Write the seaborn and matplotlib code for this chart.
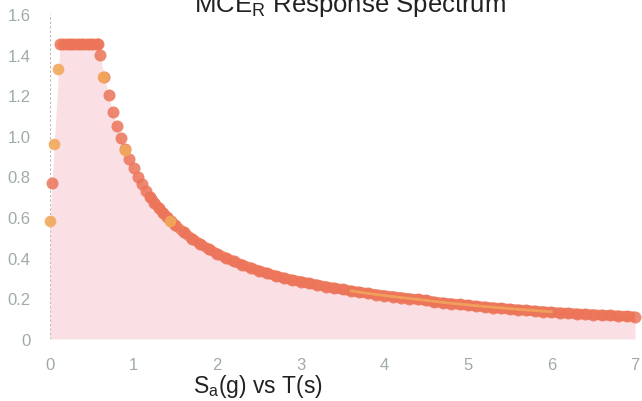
import matplotlib
matplotlib.use("Agg")
import matplotlib.pyplot as plt
import seaborn as sns
import pandas as pd

# ---- data ----
period_main = [0.025,
               0.12, 0.16, 0.20, 0.24, 0.28, 0.32, 0.36, 0.40, 0.44, 0.48, 0.52, 0.56, 0.58,
               0.60, 0.65, 0.70, 0.75, 0.80, 0.85, 0.90, 0.95, 1.00, 1.05, 1.10, 1.15, 1.20,
               1.25, 1.30, 1.35, 1.40, 1.45, 1.50,
               1.6, 1.7, 1.8, 1.9, 2.0, 2.1, 2.2, 2.3, 2.4, 2.5, 2.6, 2.7, 2.8, 2.9, 3.0,
               3.1, 3.2, 3.3, 3.4, 3.5, 3.6, 3.7, 3.8, 3.9, 4.0, 4.1, 4.2, 4.3, 4.4, 4.5,
               4.6, 4.7, 4.8, 4.9, 5.0, 5.1, 5.2, 5.3, 5.4, 5.5, 5.6, 5.7, 5.8, 5.9, 6.0,
               6.1, 6.2, 6.3, 6.4, 6.5, 6.6, 6.7, 6.8, 6.9, 7.0]
sa_main = [0.77,
           1.45, 1.45, 1.45, 1.45, 1.45, 1.45, 1.45, 1.45, 1.45, 1.45, 1.45, 1.45, 1.45,
           1.400, 1.292, 1.200, 1.120, 1.050, 0.988, 0.933, 0.884, 0.840, 0.800, 0.764, 0.730, 0.700,
           0.672, 0.646, 0.622, 0.600, 0.579, 0.560,
           0.525, 0.494, 0.467, 0.442, 0.420, 0.400, 0.382, 0.365, 0.350, 0.336, 0.323, 0.311, 0.300, 0.290, 0.283,
           0.274, 0.266, 0.258, 0.251, 0.244, 0.237, 0.231, 0.225, 0.219, 0.214, 0.209, 0.204, 0.199, 0.195, 0.190,
           0.182, 0.178, 0.174, 0.170, 0.166, 0.162, 0.158, 0.154, 0.151, 0.147, 0.144, 0.141, 0.138, 0.135, 0.132,
           0.129, 0.127, 0.124, 0.122, 0.120, 0.118, 0.116, 0.114, 0.112, 0.110]

period_alt = [0.0, 0.05, 0.10, 0.63, 0.90, 1.43,
              3.6, 3.8, 4.0, 4.2, 4.4, 4.6, 4.8, 5.0, 5.2, 5.4, 5.6, 5.8, 6.0]
sa_alt = [0.58, 0.96, 1.33, 1.29, 0.93, 0.58,
          0.237, 0.225, 0.214, 0.204, 0.195, 0.185, 0.176, 0.168, 0.160, 0.153, 0.146, 0.140, 0.134]

x_ticks = [0, 1, 2, 3, 4, 5, 6, 7]
y_ticks = [0, 0.2, 0.4, 0.6, 0.8, 1.0, 1.2, 1.4, 1.6]
y_tick_labels = ["0", "0.2", "0.4", "0.6", "0.8", "1.0", "1.2", "1.4", "1.6"]

df_main = pd.DataFrame({"T": period_main, "Sa": sa_main})
df_alt = pd.DataFrame({"T": period_alt, "Sa": sa_alt})

sns.set_style("white")
plt.rcParams["font.family"] = ["Liberation Sans", "DejaVu Sans"]
plt.rcParams["mathtext.fontset"] = "custom"
plt.rcParams["mathtext.rm"] = "Liberation Sans"

fig = plt.figure(figsize=(6.42, 4.02), dpi=100)
ax = fig.add_axes([50 / 642, 62 / 402, 585 / 642, 325 / 402])

# filled area under the spectrum
df_fill = pd.concat([df_alt.iloc[:1], df_main]).sort_values("T")
ax.fill_between(df_fill["T"], 0, df_fill["Sa"], color="#f6c3cb", alpha=0.5,
                linewidth=0, zorder=1)

# dense band along the long-period tail
tail = df_main[df_main["T"] >= 1.2]
sns.lineplot(data=tail, x="T", y="Sa", ax=ax, color="#ec7458", linewidth=7.5,
             alpha=0.85, zorder=2, solid_capstyle="round")

sns.scatterplot(data=df_main, x="T", y="Sa", ax=ax, color="#ec7458",
                s=75, linewidth=0, alpha=0.85, zorder=4, clip_on=False)
# yellow-ish streak inside the band
sns.lineplot(data=df_alt.iloc[6:], x="T", y="Sa", ax=ax, color="#f5c25e",
             linewidth=2.0, alpha=0.55, zorder=5)
sns.scatterplot(data=df_alt.iloc[:6], x="T", y="Sa", ax=ax, color="#f2a85a",
                s=70, linewidth=0, alpha=0.9, zorder=6, clip_on=False)

ax.set_xlim(0, 7)
ax.set_ylim(0, 1.6)
ax.set_xticks(x_ticks)
ax.set_xticklabels([str(t) for t in x_ticks])
ax.set_yticks(y_ticks)
ax.set_yticklabels(y_tick_labels)
ax.tick_params(axis="both", length=0, labelsize=12, labelcolor="#a0aaaa")
ax.tick_params(axis="x", pad=13)
ax.tick_params(axis="y", pad=14)
ax.set_xlabel("")
ax.set_ylabel("")
for sp in ax.spines.values():
    sp.set_visible(False)
ax.axvline(0, color="#b8b8b8", linestyle=(0, (2, 2)), linewidth=0.8, zorder=0)
ax.axhline(0, color="#b8b8b8", linestyle=(0, (1, 2)), linewidth=0.8, zorder=0)

fig.text(350 / 642, 1 - 12 / 402, r"MCE$_\mathregular{R}$ Response Spectrum",
         ha="center", va="baseline", fontsize=18.5, color="#222222")
fig.text(258 / 642, 1 - 393 / 402, r"S$_\mathregular{a}$(g) vs T(s)",
         ha="center", va="baseline", fontsize=16.5, color="#222222")

fig.savefig("out.png", dpi=100)
